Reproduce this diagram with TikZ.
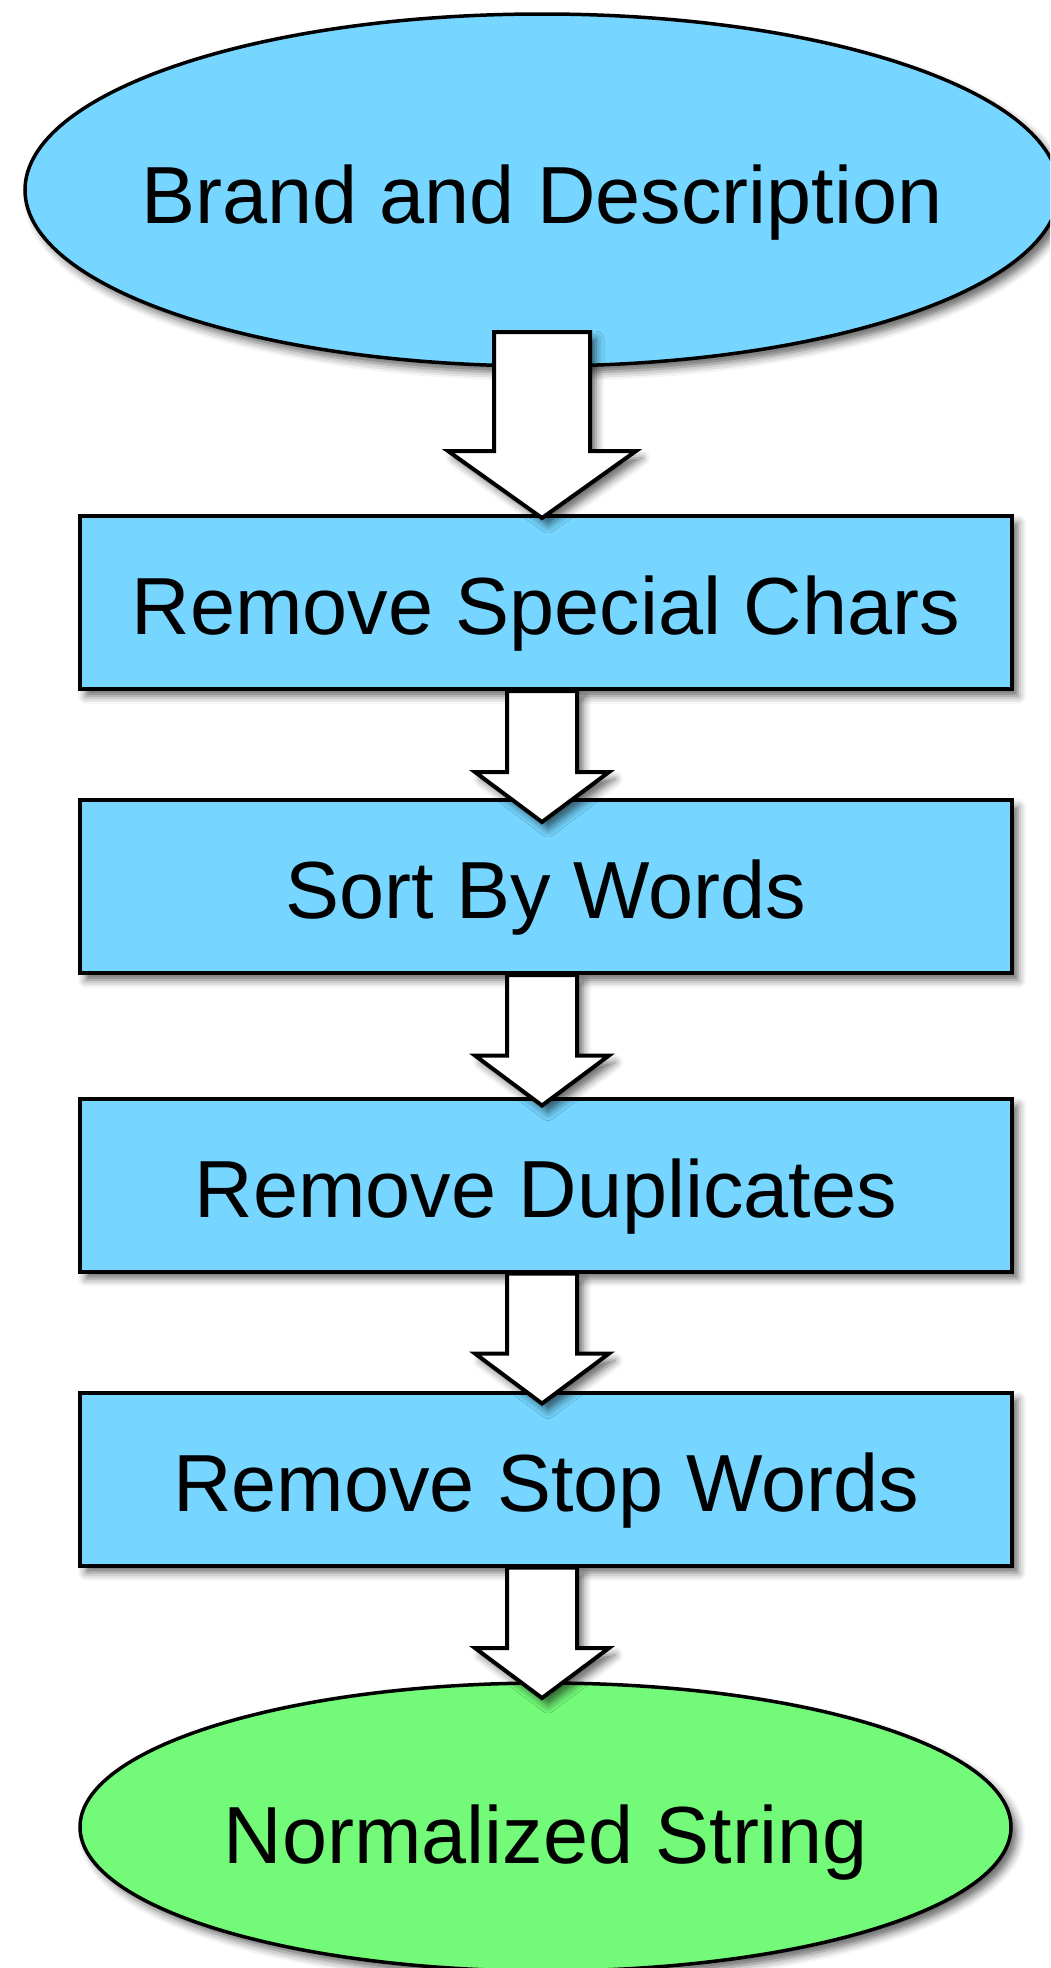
\documentclass[tikz,border=0pt]{standalone}
\usepackage{fontspec}
\setmainfont{Liberation Sans}
\usetikzlibrary{shapes.geometric,calc,shadows.blur}

\definecolor{stepblue}{RGB}{118,214,255}
\definecolor{endgreen}{RGB}{115,250,121}

\tikzset{
  softshadow/.style={blur shadow={shadow xshift=6pt, shadow yshift=-7pt,
      shadow blur radius=8pt, shadow opacity=60}},
  labelfont/.style={font=\fontsize{81}{90}\selectfont, text=black},
  terminal/.style={ellipse, draw=black, line width=3.5pt, inner sep=0pt,
      outer sep=0pt, softshadow},
  termtext/.style={labelfont, inner sep=0pt, text depth=0pt},
  stepbox/.style={rectangle, draw=black, fill=stepblue, line width=4pt,
      minimum width=932pt, minimum height=173pt, inner sep=0pt, outer sep=0pt,
      labelfont, text height=64pt, text depth=0pt, softshadow},
  arrowbody/.style={draw=black, fill=white, line width=4pt,
      line join=miter, softshadow}
}

% hollow block arrow: #1 = start point (shaft top), #2 = tip,
% #3 = shaft half width, #4 = head half width, #5 = head length
\newcommand\fatarrow[5]{%
  \draw[arrowbody]
    ($(#2 |- #1)+(-#3,0)$) -- ($(#2 |- #1)+(#3,0)$) --
    ($(#2)+(#3,-#5)$) -- ($(#2)+(#4,-#5)$) -- (#2) --
    ($(#2)+(-#4,-#5)$) -- ($(#2)+(-#3,-#5)$) -- cycle;}

\begin{document}
\begin{tikzpicture}[x=1pt, y=-1pt]
  \useasboundingbox (0,0) rectangle (1050,1968);
  \clip (0,0) rectangle (1050,1968);

  % process stages
  \node[terminal, fill=stepblue, minimum width=1034pt, minimum height=352pt,
        label={[termtext, text height=66pt]center:Brand and Description}]
        (src) at (542,190) {};
  \node[stepbox] (chars) at (546,602.5) {Remove Special Chars};
  \node[stepbox] (sort)  at (546,886.5) {Sort By Words};
  \node[stepbox] (dups)  at (546,1185)  {Remove Duplicates};
  \node[stepbox] (stop)  at (546,1479)  {Remove Stop Words};
  \node[terminal, fill=endgreen, minimum width=931pt, minimum height=288pt,
        label={[termtext, text height=72pt]center:Normalized String}]
        (out) at (545.5,1827) {};

  % arrow end points
  \coordinate (a1s) at ($(src.south)+(0,-34)$);
  \coordinate (a1t) at ($(chars.north)+(-4,2)$);
  \coordinate (a2s) at ($(chars.south)+(-4,2)$);
  \coordinate (a2t) at ($(sort.north)+(-4,22)$);
  \coordinate (a3s) at ($(sort.south)+(-4,2)$);
  \coordinate (a3t) at ($(dups.north)+(-4,7)$);
  \coordinate (a4s) at ($(dups.south)+(-4,2)$);
  \coordinate (a4t) at ($(stop.north)+(-4,11)$);
  \coordinate (a5s) at ($(stop.south)+(-4,2)$);
  \coordinate (a5t) at ($(out.north)+(-3.5,15)$);

  % connectors
  \fatarrow{a1s}{a1t}{48}{94}{67}
  \fatarrow{a2s}{a2t}{35}{67}{50}
  \fatarrow{a3s}{a3t}{35}{67}{50}
  \fatarrow{a4s}{a4t}{35}{67}{50}
  \fatarrow{a5s}{a5t}{35}{67}{50}
\end{tikzpicture}
\end{document}
